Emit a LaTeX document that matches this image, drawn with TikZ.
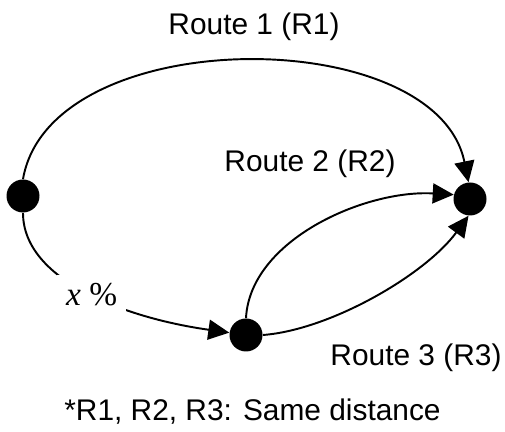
\documentclass[tikz,border=0pt]{standalone}
\usepackage{fontspec}
\setmainfont{Liberation Sans}
\newfontfamily\timesfont{Liberation Serif}
\usepackage{tikz}
\usetikzlibrary{arrows.meta, positioning}

\begin{document}
\begin{tikzpicture}[
    stop/.style={circle, fill=black, inner sep=0pt, minimum size=0.66cm},
    route/.style={-{Triangle[length=0.42cm, width=0.4cm]}, line width=1.1pt, black},
    route label/.style={anchor=base, font=\fontsize{17}{20}\selectfont}
]
    \useasboundingbox (0,0) rectangle (10.1,8.64);

    % Stops
    \node[stop] (start) at (0.46, 4.72) {};
    \node[stop] (mid) at (4.92, 1.94) {};
    \node[stop] (goal) at (9.40, 4.66) {};

    % Route 1 (direct)
    \draw[route] (start.north) .. controls (1.0, 8.2) and (8.72, 8.2) .. (goal.95);
    \node[route label] (r1) at (5.08, 7.94) {Route 1 (R1)};

    % Share x% to the middle stop
    \draw[route] (start.south) .. controls (0.46, 3.04) and (2.5, 2.28) .. (mid)
        node[pos=0.52, fill=white, inner sep=5pt, font=\timesfont\fontsize{19}{22}\selectfont] (share) {\itshape x \upshape\%};

    % Routes 2 and 3
    \draw[route] (mid.north) .. controls (5.0, 3.84) and (7.3, 4.85) .. (goal.165);
    \node[route label] (r2) at (6.2, 5.2) {Route 2 (R2)};
    \draw[route] (mid.east) .. controls (6.6, 2.04) and (8.5, 3.14) .. (goal.-95);
    \node[route label] (r3) at (8.32, 1.32) {Route 3 (R3)};

    % Note
    \node[route label] (note) at (5.05, 0.22) {*R1, R2, R3: Same distance};
\end{tikzpicture}
\end{document}
